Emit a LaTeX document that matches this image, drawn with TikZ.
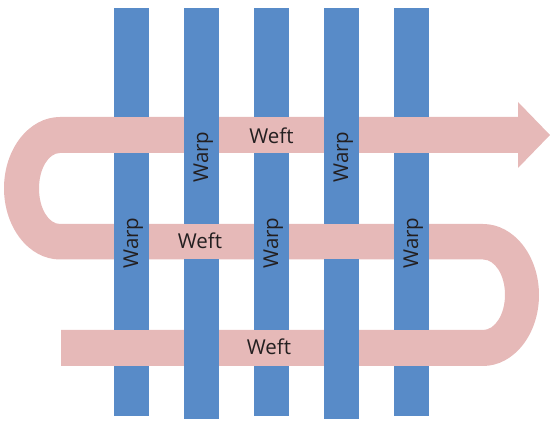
\documentclass[tikz,border=0pt]{standalone}
\usepackage{fontspec}
\setmainfont{Open Sans}
\definecolor{warpblue}{HTML}{588BC8}
\definecolor{weftpink}{HTML}{E6B9B8}
\definecolor{labelgray}{HTML}{231F20}
\begin{document}
\begin{tikzpicture}[x=1pt,y=1pt,
  warpstrip/.style={fill=warpblue},
  weftfill/.style={fill=weftpink},
  lbl/.style={font=\fontsize{20.5}{24}\selectfont, text=labelgray, inner sep=0pt, anchor=base},
  warplbl/.style={lbl, rotate=90}]
\useasboundingbox (0,0) rectangle (550,422);
% the weft, one continuous band ending in an arrow
\path[weftfill] (61,56) -- (483,56)
  arc[start angle=-90,end angle=90,x radius=56,y radius=71] -- (60,198)
  arc[start angle=-90,end angle=-270,x radius=21,y radius=35.5] -- (518,269)
  -- (518,254) -- (550,287) -- (518,320) -- (518,305) -- (60,305)
  arc[start angle=90,end angle=270,x radius=56,y radius=71.25] -- (483,162.5)
  arc[start angle=90,end angle=-90,x radius=22,y radius=35.25] -- (61,92) -- cycle;
% the warps
\path[warpstrip] (114,6) rectangle (149,414);
\path[warpstrip] (184,3) rectangle (219,414);
\path[warpstrip] (254,6) rectangle (289,414);
\path[warpstrip] (324,3) rectangle (359,414);
\path[warpstrip] (394,6) rectangle (429,414);
% weft passing over the warps
\foreach \x in {114,254,394}{
  \path[weftfill] (\x,269) rectangle ++(35,36);
  \path[weftfill] (\x,56) rectangle ++(35,36);
}
\foreach \x in {184,324}{
  \path[weftfill] (\x,162.5) rectangle ++(35,35.5);
}
% labels
\node[lbl] (weftA) at (271.5,278) {Weft};
\node[lbl] (weftB) at (200,173) {Weft};
\node[lbl] (weftC) at (269,67) {Weft};
\node[warplbl] (warpA) at (208,265) {Warp};
\node[warplbl] (warpB) at (348,265) {Warp};
\node[warplbl] (warpC) at (138,179) {Warp};
\node[warplbl] (warpD) at (278,179) {Warp};
\node[warplbl] (warpE) at (418,179) {Warp};
\end{tikzpicture}
\end{document}
